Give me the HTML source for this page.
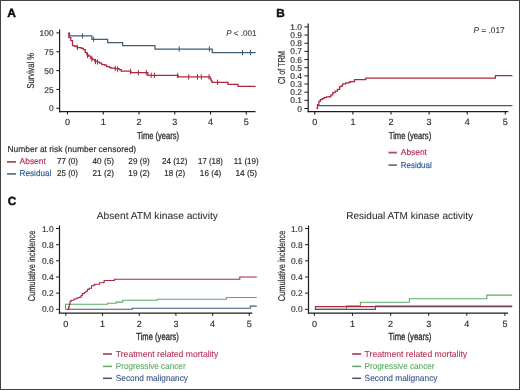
<!DOCTYPE html>
<html><head><meta charset="utf-8"><style>
html,body{margin:0;padding:0;background:#fff;}
body{width:520px;height:390px;overflow:hidden;}
svg{display:block;font-family:"Liberation Sans", sans-serif;text-rendering:geometricPrecision;}
</style></head><body>
<svg width="520" height="390" viewBox="0 0 520 390" fill="#2b2b2b">
<defs><filter id="bl" filterUnits="userSpaceOnUse" x="0" y="0" width="520" height="390"><feConvolveMatrix order="3" kernelMatrix="0 0 0 0 1 0 0 0 0" divisor="1" edgeMode="duplicate" preserveAlpha="false"/></filter></defs>
<rect x="0" y="0" width="520" height="390" fill="#fff"/>
<g filter="url(#bl)">
<text x="7.30" y="16.90" font-size="12" fill="#111" stroke="#111" stroke-width="0.45" font-weight="bold">A</text>
<line x1="59.60" y1="29.50" x2="59.60" y2="112.20" stroke="#1e1e1e" stroke-width="1.2"/>
<line x1="59.00" y1="111.60" x2="255.50" y2="111.60" stroke="#1e1e1e" stroke-width="1.3"/>
<line x1="56.40" y1="108.30" x2="59.60" y2="108.30" stroke="#1e1e1e" stroke-width="1.1"/>
<text x="53.60" y="111.40" font-size="8.4" text-anchor="end" stroke="#2b2b2b" stroke-width="0.14">0</text>
<line x1="56.40" y1="89.45" x2="59.60" y2="89.45" stroke="#1e1e1e" stroke-width="1.1"/>
<text x="53.60" y="92.55" font-size="8.4" text-anchor="end" stroke="#2b2b2b" stroke-width="0.14">25</text>
<line x1="56.40" y1="70.60" x2="59.60" y2="70.60" stroke="#1e1e1e" stroke-width="1.1"/>
<text x="53.60" y="73.70" font-size="8.4" text-anchor="end" stroke="#2b2b2b" stroke-width="0.14">50</text>
<line x1="56.40" y1="51.75" x2="59.60" y2="51.75" stroke="#1e1e1e" stroke-width="1.1"/>
<text x="53.60" y="54.85" font-size="8.4" text-anchor="end" stroke="#2b2b2b" stroke-width="0.14">75</text>
<line x1="56.40" y1="32.90" x2="59.60" y2="32.90" stroke="#1e1e1e" stroke-width="1.1"/>
<text x="53.60" y="36.00" font-size="8.4" text-anchor="end" stroke="#2b2b2b" stroke-width="0.14">100</text>
<line x1="67.50" y1="111.60" x2="67.50" y2="114.40" stroke="#1e1e1e" stroke-width="1.1"/>
<text x="67.50" y="125.10" font-size="9.0" text-anchor="middle" stroke="#2b2b2b" stroke-width="0.14">0</text>
<line x1="103.25" y1="111.60" x2="103.25" y2="114.40" stroke="#1e1e1e" stroke-width="1.1"/>
<text x="103.25" y="125.10" font-size="9.0" text-anchor="middle" stroke="#2b2b2b" stroke-width="0.14">1</text>
<line x1="139.00" y1="111.60" x2="139.00" y2="114.40" stroke="#1e1e1e" stroke-width="1.1"/>
<text x="139.00" y="125.10" font-size="9.0" text-anchor="middle" stroke="#2b2b2b" stroke-width="0.14">2</text>
<line x1="174.75" y1="111.60" x2="174.75" y2="114.40" stroke="#1e1e1e" stroke-width="1.1"/>
<text x="174.75" y="125.10" font-size="9.0" text-anchor="middle" stroke="#2b2b2b" stroke-width="0.14">3</text>
<line x1="210.50" y1="111.60" x2="210.50" y2="114.40" stroke="#1e1e1e" stroke-width="1.1"/>
<text x="210.50" y="125.10" font-size="9.0" text-anchor="middle" stroke="#2b2b2b" stroke-width="0.14">4</text>
<line x1="246.25" y1="111.60" x2="246.25" y2="114.40" stroke="#1e1e1e" stroke-width="1.1"/>
<text x="246.25" y="125.10" font-size="9.0" text-anchor="middle" stroke="#2b2b2b" stroke-width="0.14">5</text>
<text x="137.00" y="139.20" font-size="10.0" stroke="#2b2b2b" stroke-width="0.3" textLength="42.00" lengthAdjust="spacingAndGlyphs">Time (years)</text>
<text x="34.30" y="88.50" font-size="10" stroke="#2b2b2b" stroke-width="0.18" textLength="35.50" lengthAdjust="spacingAndGlyphs" transform="rotate(-90 34.30 88.50)">Survival %</text>
<text x="226.20" y="35.90" font-size="8.2" stroke="#2b2b2b" stroke-width="0.05" textLength="30.20" lengthAdjust="spacingAndGlyphs"><tspan font-style="italic">P</tspan> &lt; .001</text>
<polyline points="68.60,33.00 69.50,33.00 69.50,35.90 91.90,35.90 91.90,39.30 107.60,39.30 107.60,42.60 122.60,42.60 122.60,45.60 155.00,45.60 155.00,49.00 212.30,49.00 212.30,52.60 255.60,52.60 255.60,52.60" fill="none" stroke="#3f5b78" stroke-width="1.25" stroke-linejoin="miter"/>
<line x1="82.40" y1="33.20" x2="82.40" y2="38.60" stroke="#3f5b78" stroke-width="1.0"/>
<line x1="93.70" y1="36.60" x2="93.70" y2="42.00" stroke="#3f5b78" stroke-width="1.0"/>
<line x1="179.20" y1="46.30" x2="179.20" y2="51.70" stroke="#3f5b78" stroke-width="1.0"/>
<line x1="209.40" y1="46.30" x2="209.40" y2="51.70" stroke="#3f5b78" stroke-width="1.0"/>
<line x1="242.50" y1="49.90" x2="242.50" y2="55.30" stroke="#3f5b78" stroke-width="1.0"/>
<line x1="250.50" y1="49.90" x2="250.50" y2="55.30" stroke="#3f5b78" stroke-width="1.0"/>
<polyline points="68.60,33.00 68.80,33.00 68.80,37.40 69.50,37.40 69.50,37.50 70.80,37.50 70.80,40.50 72.50,40.50 72.50,45.70 74.70,45.70 74.70,46.40 77.30,46.40 77.30,47.50 81.30,47.50 81.30,48.30 83.40,48.30 83.40,49.60 85.20,49.60 85.20,52.70 86.90,52.70 86.90,54.80 88.70,54.80 88.70,56.20 90.80,56.20 90.80,58.30 92.80,58.30 92.80,59.50 94.80,59.50 94.80,61.30 97.50,61.30 97.50,62.00 99.70,62.00 99.70,63.00 101.80,63.00 101.80,64.70 104.90,64.70 104.90,65.10 106.60,65.10 106.60,66.50 109.40,66.50 109.40,67.40 110.80,67.40 110.80,68.20 114.90,68.20 114.90,68.50 119.10,68.50 119.10,69.60 121.20,69.60 121.20,71.20 130.70,71.20 130.70,71.20 130.90,71.20 130.90,72.70 147.30,72.70 147.30,72.70 147.80,72.70 147.80,75.30 177.70,75.30 177.70,75.30 178.00,75.30 178.00,76.90 209.40,76.90 209.40,76.90 210.20,76.90 210.20,78.60 211.00,78.60 211.00,80.40 211.70,80.40 211.70,81.60 212.30,81.60 212.30,82.30 227.70,82.30 227.70,82.30 227.90,82.30 227.90,84.30 237.80,84.30 237.80,84.30 238.00,84.30 238.00,86.30 255.60,86.30 255.60,86.30" fill="none" stroke="#b0263f" stroke-width="1.25" stroke-linejoin="miter"/>
<line x1="77.30" y1="44.80" x2="77.30" y2="50.20" stroke="#b0263f" stroke-width="1.0"/>
<line x1="87.50" y1="52.60" x2="87.50" y2="58.00" stroke="#b0263f" stroke-width="1.0"/>
<line x1="91.80" y1="56.30" x2="91.80" y2="61.70" stroke="#b0263f" stroke-width="1.0"/>
<line x1="95.50" y1="58.80" x2="95.50" y2="64.20" stroke="#b0263f" stroke-width="1.0"/>
<line x1="97.50" y1="59.30" x2="97.50" y2="64.70" stroke="#b0263f" stroke-width="1.0"/>
<line x1="115.30" y1="65.80" x2="115.30" y2="71.20" stroke="#b0263f" stroke-width="1.0"/>
<line x1="117.50" y1="66.30" x2="117.50" y2="71.70" stroke="#b0263f" stroke-width="1.0"/>
<line x1="130.50" y1="68.80" x2="130.50" y2="74.20" stroke="#b0263f" stroke-width="1.0"/>
<line x1="138.40" y1="70.00" x2="138.40" y2="75.40" stroke="#b0263f" stroke-width="1.0"/>
<line x1="146.30" y1="70.00" x2="146.30" y2="75.40" stroke="#b0263f" stroke-width="1.0"/>
<line x1="151.20" y1="72.60" x2="151.20" y2="78.00" stroke="#b0263f" stroke-width="1.0"/>
<line x1="154.40" y1="72.60" x2="154.40" y2="78.00" stroke="#b0263f" stroke-width="1.0"/>
<line x1="177.70" y1="72.80" x2="177.70" y2="78.20" stroke="#b0263f" stroke-width="1.0"/>
<line x1="188.70" y1="74.20" x2="188.70" y2="79.60" stroke="#b0263f" stroke-width="1.0"/>
<line x1="197.50" y1="74.20" x2="197.50" y2="79.60" stroke="#b0263f" stroke-width="1.0"/>
<line x1="201.30" y1="74.20" x2="201.30" y2="79.60" stroke="#b0263f" stroke-width="1.0"/>
<line x1="209.00" y1="74.20" x2="209.00" y2="79.60" stroke="#b0263f" stroke-width="1.0"/>
<line x1="217.60" y1="79.60" x2="217.60" y2="85.00" stroke="#b0263f" stroke-width="1.0"/>
<text x="7.50" y="151.90" font-size="8.6" stroke="#2b2b2b" stroke-width="0.16" textLength="128.70" lengthAdjust="spacingAndGlyphs">Number at risk (number censored)</text>
<line x1="7.00" y1="161.90" x2="16.00" y2="161.90" stroke="#ad4d6a" stroke-width="1.8"/>
<text x="19.60" y="164.40" font-size="8.6" fill="#b92b55" stroke="#b92b55" stroke-width="0.16" textLength="26.20" lengthAdjust="spacingAndGlyphs">Absent</text>
<line x1="7.00" y1="173.90" x2="16.00" y2="173.90" stroke="#5f788e" stroke-width="1.8"/>
<text x="19.60" y="176.30" font-size="8.6" fill="#2d5c92" stroke="#2d5c92" stroke-width="0.16" textLength="31.70" lengthAdjust="spacingAndGlyphs">Residual</text>
<text x="57.00" y="164.40" font-size="8.6" stroke="#2b2b2b" stroke-width="0.16" textLength="21.00" lengthAdjust="spacingAndGlyphs">77 (0)</text>
<text x="57.00" y="176.30" font-size="8.6" stroke="#2b2b2b" stroke-width="0.16" textLength="21.00" lengthAdjust="spacingAndGlyphs">25 (0)</text>
<text x="92.50" y="164.40" font-size="8.6" stroke="#2b2b2b" stroke-width="0.16" textLength="21.50" lengthAdjust="spacingAndGlyphs">40 (5)</text>
<text x="92.50" y="176.30" font-size="8.6" stroke="#2b2b2b" stroke-width="0.16" textLength="21.50" lengthAdjust="spacingAndGlyphs">21 (2)</text>
<text x="128.35" y="164.40" font-size="8.6" stroke="#2b2b2b" stroke-width="0.16" textLength="21.30" lengthAdjust="spacingAndGlyphs">29 (9)</text>
<text x="128.35" y="176.30" font-size="8.6" stroke="#2b2b2b" stroke-width="0.16" textLength="21.30" lengthAdjust="spacingAndGlyphs">19 (2)</text>
<text x="161.95" y="164.40" font-size="8.6" stroke="#2b2b2b" stroke-width="0.16" textLength="25.60" lengthAdjust="spacingAndGlyphs">24 (12)</text>
<text x="164.35" y="176.30" font-size="8.6" stroke="#2b2b2b" stroke-width="0.16" textLength="20.80" lengthAdjust="spacingAndGlyphs">18 (2)</text>
<text x="198.10" y="164.40" font-size="8.6" stroke="#2b2b2b" stroke-width="0.16" textLength="24.80" lengthAdjust="spacingAndGlyphs">17 (18)</text>
<text x="199.85" y="176.30" font-size="8.6" stroke="#2b2b2b" stroke-width="0.16" textLength="21.30" lengthAdjust="spacingAndGlyphs">16 (4)</text>
<text x="233.85" y="164.40" font-size="8.6" stroke="#2b2b2b" stroke-width="0.16" textLength="24.80" lengthAdjust="spacingAndGlyphs">11 (19)</text>
<text x="235.45" y="176.30" font-size="8.6" stroke="#2b2b2b" stroke-width="0.16" textLength="21.60" lengthAdjust="spacingAndGlyphs">14 (5)</text>
<text x="276.30" y="17.00" font-size="11.8" fill="#111" stroke="#111" stroke-width="0.45" font-weight="bold">B</text>
<line x1="308.20" y1="23.50" x2="308.20" y2="112.20" stroke="#1e1e1e" stroke-width="1.2"/>
<line x1="307.60" y1="111.60" x2="508.30" y2="111.60" stroke="#1e1e1e" stroke-width="1.3"/>
<line x1="304.40" y1="108.50" x2="308.20" y2="108.50" stroke="#1e1e1e" stroke-width="1.0"/>
<text x="302.00" y="111.50" font-size="8.4" text-anchor="end" stroke="#2b2b2b" stroke-width="0.14">0</text>
<line x1="304.40" y1="100.34" x2="308.20" y2="100.34" stroke="#1e1e1e" stroke-width="1.0"/>
<text x="302.00" y="103.34" font-size="8.4" text-anchor="end" stroke="#2b2b2b" stroke-width="0.14">0.1</text>
<line x1="304.40" y1="92.18" x2="308.20" y2="92.18" stroke="#1e1e1e" stroke-width="1.0"/>
<text x="302.00" y="95.18" font-size="8.4" text-anchor="end" stroke="#2b2b2b" stroke-width="0.14">0.2</text>
<line x1="304.40" y1="84.02" x2="308.20" y2="84.02" stroke="#1e1e1e" stroke-width="1.0"/>
<text x="302.00" y="87.02" font-size="8.4" text-anchor="end" stroke="#2b2b2b" stroke-width="0.14">0.3</text>
<line x1="304.40" y1="75.86" x2="308.20" y2="75.86" stroke="#1e1e1e" stroke-width="1.0"/>
<text x="302.00" y="78.86" font-size="8.4" text-anchor="end" stroke="#2b2b2b" stroke-width="0.14">0.4</text>
<line x1="304.40" y1="67.70" x2="308.20" y2="67.70" stroke="#1e1e1e" stroke-width="1.0"/>
<text x="302.00" y="70.70" font-size="8.4" text-anchor="end" stroke="#2b2b2b" stroke-width="0.14">0.5</text>
<line x1="304.40" y1="59.54" x2="308.20" y2="59.54" stroke="#1e1e1e" stroke-width="1.0"/>
<text x="302.00" y="62.54" font-size="8.4" text-anchor="end" stroke="#2b2b2b" stroke-width="0.14">0.6</text>
<line x1="304.40" y1="51.38" x2="308.20" y2="51.38" stroke="#1e1e1e" stroke-width="1.0"/>
<text x="302.00" y="54.38" font-size="8.4" text-anchor="end" stroke="#2b2b2b" stroke-width="0.14">0.7</text>
<line x1="304.40" y1="43.22" x2="308.20" y2="43.22" stroke="#1e1e1e" stroke-width="1.0"/>
<text x="302.00" y="46.22" font-size="8.4" text-anchor="end" stroke="#2b2b2b" stroke-width="0.14">0.8</text>
<line x1="304.40" y1="35.06" x2="308.20" y2="35.06" stroke="#1e1e1e" stroke-width="1.0"/>
<text x="302.00" y="38.06" font-size="8.4" text-anchor="end" stroke="#2b2b2b" stroke-width="0.14">0.9</text>
<line x1="304.40" y1="26.90" x2="308.20" y2="26.90" stroke="#1e1e1e" stroke-width="1.0"/>
<text x="302.00" y="29.90" font-size="8.4" text-anchor="end" stroke="#2b2b2b" stroke-width="0.14">1.0</text>
<line x1="314.80" y1="111.60" x2="314.80" y2="114.40" stroke="#1e1e1e" stroke-width="1.1"/>
<text x="314.80" y="125.10" font-size="9.0" text-anchor="middle" stroke="#2b2b2b" stroke-width="0.14">0</text>
<line x1="352.90" y1="111.60" x2="352.90" y2="114.40" stroke="#1e1e1e" stroke-width="1.1"/>
<text x="352.90" y="125.10" font-size="9.0" text-anchor="middle" stroke="#2b2b2b" stroke-width="0.14">1</text>
<line x1="391.00" y1="111.60" x2="391.00" y2="114.40" stroke="#1e1e1e" stroke-width="1.1"/>
<text x="391.00" y="125.10" font-size="9.0" text-anchor="middle" stroke="#2b2b2b" stroke-width="0.14">2</text>
<line x1="429.10" y1="111.60" x2="429.10" y2="114.40" stroke="#1e1e1e" stroke-width="1.1"/>
<text x="429.10" y="125.10" font-size="9.0" text-anchor="middle" stroke="#2b2b2b" stroke-width="0.14">3</text>
<line x1="467.20" y1="111.60" x2="467.20" y2="114.40" stroke="#1e1e1e" stroke-width="1.1"/>
<text x="467.20" y="125.10" font-size="9.0" text-anchor="middle" stroke="#2b2b2b" stroke-width="0.14">4</text>
<line x1="505.30" y1="111.60" x2="505.30" y2="114.40" stroke="#1e1e1e" stroke-width="1.1"/>
<text x="505.30" y="125.10" font-size="9.0" text-anchor="middle" stroke="#2b2b2b" stroke-width="0.14">5</text>
<text x="388.80" y="139.20" font-size="10.0" stroke="#2b2b2b" stroke-width="0.3" textLength="42.40" lengthAdjust="spacingAndGlyphs">Time (years)</text>
<text x="285.20" y="84.00" font-size="10" stroke="#2b2b2b" stroke-width="0.18" textLength="33.00" lengthAdjust="spacingAndGlyphs" transform="rotate(-90 285.20 84.00)">CI of TRM</text>
<text x="473.40" y="33.00" font-size="8.2" stroke="#2b2b2b" stroke-width="0.05" textLength="31.30" lengthAdjust="spacingAndGlyphs"><tspan font-style="italic">P</tspan> = .017</text>
<polyline points="318.00,105.50 512.40,105.50" fill="none" stroke="#3f5b78" stroke-width="1.25" stroke-linejoin="miter"/>
<polyline points="316.40,108.30 317.50,108.30 317.50,104.60 318.90,104.60 318.90,101.40 320.30,101.40 320.30,99.50 322.20,99.50 322.20,98.60 324.00,98.60 324.00,97.70 326.30,97.70 326.30,96.80 329.10,96.80 329.10,96.50 330.90,96.50 330.90,94.90 332.80,94.90 332.80,92.60 335.10,92.60 335.10,91.20 337.40,91.20 337.40,89.40 339.70,89.40 339.70,86.60 341.10,86.60 341.10,85.80 342.60,85.80 342.60,83.90 345.70,83.90 345.70,82.80 348.80,82.80 348.80,82.40 350.30,82.40 350.30,81.60 354.20,81.60 354.20,81.20 354.50,81.20 354.50,79.50 365.30,79.50 365.30,79.50 365.80,79.50 365.80,78.10 495.20,78.10 495.20,78.10 495.40,78.10 495.40,75.60 512.40,75.60 512.40,75.60" fill="none" stroke="#b0263f" stroke-width="1.25" stroke-linejoin="miter"/>
<line x1="388.50" y1="152.60" x2="396.90" y2="152.60" stroke="#ad4d6a" stroke-width="1.8"/>
<text x="400.80" y="154.80" font-size="8.6" fill="#b92b55" stroke="#b92b55" stroke-width="0.16" textLength="26.10" lengthAdjust="spacingAndGlyphs">Absent</text>
<line x1="388.50" y1="165.10" x2="396.90" y2="165.10" stroke="#5f788e" stroke-width="1.8"/>
<text x="400.80" y="167.60" font-size="8.6" fill="#2d5c92" stroke="#2d5c92" stroke-width="0.16" textLength="30.90" lengthAdjust="spacingAndGlyphs">Residual</text>
<text x="7.70" y="204.90" font-size="11.8" fill="#111" stroke="#111" stroke-width="0.45" font-weight="bold">C</text>
<line x1="59.50" y1="225.50" x2="59.50" y2="313.60" stroke="#1e1e1e" stroke-width="1.2"/>
<line x1="58.90" y1="313.10" x2="252.30" y2="313.10" stroke="#1e1e1e" stroke-width="1.3"/>
<line x1="56.10" y1="309.30" x2="59.50" y2="309.30" stroke="#1e1e1e" stroke-width="1.0"/>
<text x="53.60" y="312.30" font-size="8.4" text-anchor="end" stroke="#2b2b2b" stroke-width="0.14">0.0</text>
<line x1="56.10" y1="293.14" x2="59.50" y2="293.14" stroke="#1e1e1e" stroke-width="1.0"/>
<text x="53.60" y="296.14" font-size="8.4" text-anchor="end" stroke="#2b2b2b" stroke-width="0.14">0.2</text>
<line x1="56.10" y1="276.98" x2="59.50" y2="276.98" stroke="#1e1e1e" stroke-width="1.0"/>
<text x="53.60" y="279.98" font-size="8.4" text-anchor="end" stroke="#2b2b2b" stroke-width="0.14">0.4</text>
<line x1="56.10" y1="260.82" x2="59.50" y2="260.82" stroke="#1e1e1e" stroke-width="1.0"/>
<text x="53.60" y="263.82" font-size="8.4" text-anchor="end" stroke="#2b2b2b" stroke-width="0.14">0.6</text>
<line x1="56.10" y1="244.66" x2="59.50" y2="244.66" stroke="#1e1e1e" stroke-width="1.0"/>
<text x="53.60" y="247.66" font-size="8.4" text-anchor="end" stroke="#2b2b2b" stroke-width="0.14">0.8</text>
<line x1="56.10" y1="228.50" x2="59.50" y2="228.50" stroke="#1e1e1e" stroke-width="1.0"/>
<text x="53.60" y="231.50" font-size="8.4" text-anchor="end" stroke="#2b2b2b" stroke-width="0.14">1.0</text>
<line x1="65.80" y1="313.10" x2="65.80" y2="315.80" stroke="#1e1e1e" stroke-width="1.1"/>
<text x="65.80" y="327.00" font-size="9.0" text-anchor="middle" stroke="#2b2b2b" stroke-width="0.14">0</text>
<line x1="102.50" y1="313.10" x2="102.50" y2="315.80" stroke="#1e1e1e" stroke-width="1.1"/>
<text x="102.50" y="327.00" font-size="9.0" text-anchor="middle" stroke="#2b2b2b" stroke-width="0.14">1</text>
<line x1="139.20" y1="313.10" x2="139.20" y2="315.80" stroke="#1e1e1e" stroke-width="1.1"/>
<text x="139.20" y="327.00" font-size="9.0" text-anchor="middle" stroke="#2b2b2b" stroke-width="0.14">2</text>
<line x1="175.90" y1="313.10" x2="175.90" y2="315.80" stroke="#1e1e1e" stroke-width="1.1"/>
<text x="175.90" y="327.00" font-size="9.0" text-anchor="middle" stroke="#2b2b2b" stroke-width="0.14">3</text>
<line x1="212.60" y1="313.10" x2="212.60" y2="315.80" stroke="#1e1e1e" stroke-width="1.1"/>
<text x="212.60" y="327.00" font-size="9.0" text-anchor="middle" stroke="#2b2b2b" stroke-width="0.14">4</text>
<line x1="249.30" y1="313.10" x2="249.30" y2="315.80" stroke="#1e1e1e" stroke-width="1.1"/>
<text x="249.30" y="327.00" font-size="9.0" text-anchor="middle" stroke="#2b2b2b" stroke-width="0.14">5</text>
<text x="96.70" y="218.90" font-size="10.0" stroke="#2b2b2b" stroke-width="0.05" textLength="121.20" lengthAdjust="spacingAndGlyphs">Absent ATM kinase activity</text>
<text x="35.40" y="301.30" font-size="9.9" stroke="#2b2b2b" stroke-width="0.2" textLength="70.60" lengthAdjust="spacingAndGlyphs" transform="rotate(-90 35.40 301.30)">Cumulative incidence</text>
<text x="136.30" y="340.40" font-size="10.2" stroke="#2b2b2b" stroke-width="0.3" textLength="42.50" lengthAdjust="spacingAndGlyphs">Time (years)</text>
<line x1="308.50" y1="225.50" x2="308.50" y2="313.60" stroke="#1e1e1e" stroke-width="1.2"/>
<line x1="307.90" y1="313.10" x2="508.00" y2="313.10" stroke="#1e1e1e" stroke-width="1.3"/>
<line x1="305.10" y1="309.30" x2="308.50" y2="309.30" stroke="#1e1e1e" stroke-width="1.0"/>
<text x="302.60" y="312.30" font-size="8.4" text-anchor="end" stroke="#2b2b2b" stroke-width="0.14">0.0</text>
<line x1="305.10" y1="293.14" x2="308.50" y2="293.14" stroke="#1e1e1e" stroke-width="1.0"/>
<text x="302.60" y="296.14" font-size="8.4" text-anchor="end" stroke="#2b2b2b" stroke-width="0.14">0.2</text>
<line x1="305.10" y1="276.98" x2="308.50" y2="276.98" stroke="#1e1e1e" stroke-width="1.0"/>
<text x="302.60" y="279.98" font-size="8.4" text-anchor="end" stroke="#2b2b2b" stroke-width="0.14">0.4</text>
<line x1="305.10" y1="260.82" x2="308.50" y2="260.82" stroke="#1e1e1e" stroke-width="1.0"/>
<text x="302.60" y="263.82" font-size="8.4" text-anchor="end" stroke="#2b2b2b" stroke-width="0.14">0.6</text>
<line x1="305.10" y1="244.66" x2="308.50" y2="244.66" stroke="#1e1e1e" stroke-width="1.0"/>
<text x="302.60" y="247.66" font-size="8.4" text-anchor="end" stroke="#2b2b2b" stroke-width="0.14">0.8</text>
<line x1="305.10" y1="228.50" x2="308.50" y2="228.50" stroke="#1e1e1e" stroke-width="1.0"/>
<text x="302.60" y="231.50" font-size="8.4" text-anchor="end" stroke="#2b2b2b" stroke-width="0.14">1.0</text>
<line x1="314.40" y1="313.10" x2="314.40" y2="315.80" stroke="#1e1e1e" stroke-width="1.1"/>
<text x="314.40" y="327.00" font-size="9.0" text-anchor="middle" stroke="#2b2b2b" stroke-width="0.14">0</text>
<line x1="352.50" y1="313.10" x2="352.50" y2="315.80" stroke="#1e1e1e" stroke-width="1.1"/>
<text x="352.50" y="327.00" font-size="9.0" text-anchor="middle" stroke="#2b2b2b" stroke-width="0.14">1</text>
<line x1="390.60" y1="313.10" x2="390.60" y2="315.80" stroke="#1e1e1e" stroke-width="1.1"/>
<text x="390.60" y="327.00" font-size="9.0" text-anchor="middle" stroke="#2b2b2b" stroke-width="0.14">2</text>
<line x1="428.70" y1="313.10" x2="428.70" y2="315.80" stroke="#1e1e1e" stroke-width="1.1"/>
<text x="428.70" y="327.00" font-size="9.0" text-anchor="middle" stroke="#2b2b2b" stroke-width="0.14">3</text>
<line x1="466.80" y1="313.10" x2="466.80" y2="315.80" stroke="#1e1e1e" stroke-width="1.1"/>
<text x="466.80" y="327.00" font-size="9.0" text-anchor="middle" stroke="#2b2b2b" stroke-width="0.14">4</text>
<line x1="504.90" y1="313.10" x2="504.90" y2="315.80" stroke="#1e1e1e" stroke-width="1.1"/>
<text x="504.90" y="327.00" font-size="9.0" text-anchor="middle" stroke="#2b2b2b" stroke-width="0.14">5</text>
<text x="346.30" y="218.90" font-size="10.0" stroke="#2b2b2b" stroke-width="0.05" textLength="126.80" lengthAdjust="spacingAndGlyphs">Residual ATM kinase activity</text>
<text x="284.80" y="301.30" font-size="9.9" stroke="#2b2b2b" stroke-width="0.2" textLength="70.60" lengthAdjust="spacingAndGlyphs" transform="rotate(-90 284.80 301.30)">Cumulative incidence</text>
<text x="388.60" y="340.40" font-size="10.2" stroke="#2b2b2b" stroke-width="0.3" textLength="42.80" lengthAdjust="spacingAndGlyphs">Time (years)</text>
<polyline points="65.50,309.30 132.30,309.30 132.30,308.20 250.30,308.20 250.30,306.10 256.80,306.10 256.80,306.10" fill="none" stroke="#3f5b78" stroke-width="1.1" stroke-linejoin="miter"/>
<polyline points="65.50,309.30 65.50,309.30 65.50,304.20 107.70,304.20 107.70,303.20 116.20,303.20 116.20,302.10 122.70,302.10 122.70,300.30 157.30,300.30 157.30,299.30 226.40,299.30 226.40,297.50 256.80,297.50 256.80,297.50" fill="none" stroke="#58ad66" stroke-width="1.1" stroke-linejoin="miter"/>
<polyline points="67.40,309.40 68.50,309.40 68.50,307.10 69.30,307.10 69.30,304.40 70.10,304.40 70.10,301.30 71.20,301.30 71.20,300.20 72.80,300.20 72.80,300.20 73.90,300.20 73.90,299.00 76.20,299.00 76.20,298.20 78.20,298.20 78.20,297.50 79.70,297.50 79.70,297.10 81.20,297.10 81.20,295.50 82.40,295.50 82.40,293.60 84.30,293.60 84.30,292.50 85.80,292.50 85.80,291.30 87.40,291.30 87.40,289.40 89.30,289.40 89.30,288.20 91.50,288.20 91.50,285.80 93.40,285.80 93.40,285.10 94.90,285.10 94.90,284.30 99.50,284.30 99.50,282.80 103.40,282.80 103.40,282.40 104.20,282.40 104.20,280.50 114.20,280.50 114.20,280.10 114.50,280.10 114.50,279.20 239.60,279.20 239.60,279.20 239.80,279.20 239.80,277.00 256.80,277.00 256.80,277.00" fill="none" stroke="#b0263f" stroke-width="1.1" stroke-linejoin="miter"/>
<polyline points="315.00,309.40 346.50,309.40 346.50,305.90 360.40,305.90 360.40,302.30 409.40,302.30 409.40,298.80 486.80,298.80 486.80,295.10 512.20,295.10 512.20,295.10" fill="none" stroke="#58ad66" stroke-width="1.1" stroke-linejoin="miter"/>
<polyline points="315.40,309.40 315.40,306.60 512.20,306.60" fill="none" stroke="#b0263f" stroke-width="1.1" stroke-linejoin="miter"/>
<polyline points="314.80,309.40 375.40,309.40 375.40,306.00 512.20,306.00 512.20,306.00" fill="none" stroke="#3f5b78" stroke-width="1.1" stroke-linejoin="miter"/>
<line x1="103.00" y1="354.00" x2="111.90" y2="354.00" stroke="#ad4d6a" stroke-width="1.8"/>
<line x1="103.00" y1="366.40" x2="111.90" y2="366.40" stroke="#62a46e" stroke-width="1.5"/>
<line x1="103.00" y1="378.30" x2="111.90" y2="378.30" stroke="#46526c" stroke-width="1.5"/>
<line x1="352.20" y1="354.00" x2="361.10" y2="354.00" stroke="#ad4d6a" stroke-width="1.8"/>
<line x1="352.20" y1="366.40" x2="361.10" y2="366.40" stroke="#62a46e" stroke-width="1.5"/>
<line x1="352.20" y1="378.30" x2="361.10" y2="378.30" stroke="#46526c" stroke-width="1.5"/>
<text x="115.80" y="356.80" font-size="8.8" fill="#b92b55" stroke="#b92b55" stroke-width="0.08" textLength="102.50" lengthAdjust="spacingAndGlyphs">Treatment related mortality</text>
<text x="115.80" y="368.90" font-size="8.8" fill="#55a85a" stroke="#55a85a" stroke-width="0.08" textLength="69.80" lengthAdjust="spacingAndGlyphs">Progressive cancer</text>
<text x="115.80" y="381.30" font-size="8.8" fill="#2f4f85" stroke="#2f4f85" stroke-width="0.08" textLength="72.20" lengthAdjust="spacingAndGlyphs">Second malignancy</text>
<text x="364.60" y="356.80" font-size="8.8" fill="#b92b55" stroke="#b92b55" stroke-width="0.08" textLength="102.50" lengthAdjust="spacingAndGlyphs">Treatment related mortality</text>
<text x="364.60" y="368.90" font-size="8.8" fill="#55a85a" stroke="#55a85a" stroke-width="0.08" textLength="69.90" lengthAdjust="spacingAndGlyphs">Progressive cancer</text>
<text x="364.60" y="381.30" font-size="8.8" fill="#2f4f85" stroke="#2f4f85" stroke-width="0.08" textLength="72.90" lengthAdjust="spacingAndGlyphs">Second malignancy</text>
</g>
<rect x="0.5" y="0.5" width="519" height="389" fill="none" stroke="#434343" stroke-width="1"/>
</svg>
</body></html>
